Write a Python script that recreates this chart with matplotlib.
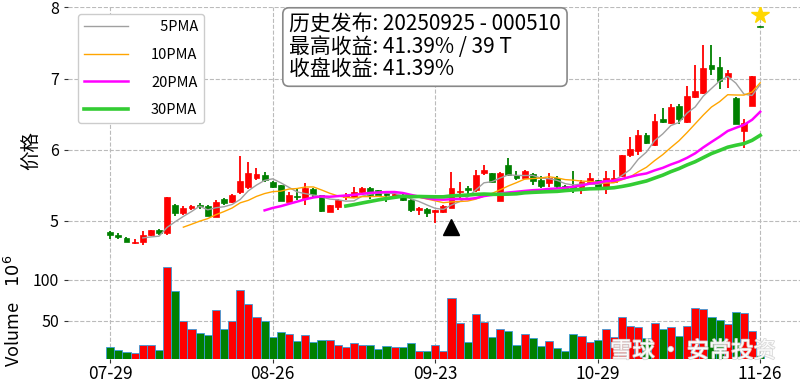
import numpy as np
import pandas as pd
import matplotlib
matplotlib.use("Agg")
import matplotlib.pyplot as plt
import matplotlib.patheffects as pe

plt.rcParams['font.family'] = ['Noto Sans CJK SC', 'DejaVu Sans']
plt.rcParams['axes.unicode_minus'] = False

# 日线数据 (07-29 ~ 11-26)
opens = [4.84, 4.81, 4.76, 4.69, 4.71, 4.80, 4.87, 4.83, 5.22, 5.11,
         5.18, 5.22, 5.21, 5.06, 5.31, 5.26, 5.41, 5.48, 5.60, 5.65,
         5.55, 5.50, 5.27, 5.35, 5.32, 5.45, 5.36, 5.13, 5.20, 5.34,
         5.34, 5.40, 5.47, 5.43, 5.39, 5.35, 5.37, 5.30, 5.16, 5.17,
         5.13, 5.12, 5.18, 5.40, 5.47, 5.43, 5.68, 5.67, 5.28, 5.78,
         5.65, 5.61, 5.66, 5.58, 5.54, 5.60, 5.49, 5.49, 5.48, 5.55,
         5.57, 5.48, 5.55, 5.63, 5.92, 5.98, 6.21, 6.06, 6.43, 6.38,
         6.61, 6.39, 6.74, 6.80, 7.19, 7.16, 7.02, 6.73, 6.26, 6.62,
         7.74]
highs = [4.86, 4.83, 4.77, 4.74, 4.86, 4.88, 4.89, 5.34, 5.24, 5.21,
         5.22, 5.25, 5.22, 5.29, 5.32, 5.38, 5.91, 5.83, 5.75, 5.69,
         5.56, 5.50, 5.41, 5.46, 5.53, 5.47, 5.37, 5.23, 5.31, 5.39,
         5.48, 5.48, 5.48, 5.44, 5.41, 5.41, 5.39, 5.31, 5.20, 5.18,
         5.15, 5.22, 5.69, 5.55, 5.49, 5.72, 5.78, 5.68, 5.69, 5.89,
         5.70, 5.71, 5.68, 5.63, 5.67, 5.63, 5.50, 5.70, 5.58, 5.67,
         5.58, 5.70, 5.71, 5.93, 6.18, 6.28, 6.23, 6.50, 6.59, 6.64,
         6.64, 6.89, 7.19, 7.47, 7.47, 7.30, 7.12, 6.74, 6.43, 7.03,
         7.74]
lows = [4.75, 4.74, 4.70, 4.67, 4.66, 4.79, 4.81, 4.81, 5.07, 5.08,
        5.16, 5.17, 5.07, 5.05, 5.22, 5.25, 5.38, 5.45, 5.58, 5.55,
        5.47, 5.28, 5.26, 5.29, 5.22, 5.32, 5.13, 5.12, 5.15, 5.29,
        5.33, 5.39, 5.31, 5.36, 5.27, 5.31, 5.28, 5.13, 5.08, 5.06,
        4.97, 5.11, 5.18, 5.32, 5.36, 5.41, 5.64, 5.54, 5.28, 5.63,
        5.57, 5.60, 5.50, 5.46, 5.48, 5.47, 5.41, 5.39, 5.38, 5.53,
        5.47, 5.38, 5.55, 5.62, 5.90, 5.93, 6.08, 6.05, 6.38, 6.36,
        6.36, 6.38, 6.72, 6.79, 7.05, 6.86, 6.87, 6.36, 6.02, 6.62,
        7.72]
closes = [4.80, 4.78, 4.71, 4.71, 4.81, 4.87, 4.83, 5.33, 5.11, 5.18,
          5.21, 5.21, 5.07, 5.26, 5.25, 5.37, 5.56, 5.68, 5.66, 5.58,
          5.48, 5.28, 5.36, 5.34, 5.46, 5.38, 5.14, 5.22, 5.29, 5.36,
          5.40, 5.47, 5.36, 5.37, 5.36, 5.38, 5.29, 5.16, 5.18, 5.11,
          5.15, 5.21, 5.47, 5.42, 5.43, 5.65, 5.71, 5.55, 5.68, 5.65,
          5.61, 5.70, 5.56, 5.49, 5.61, 5.49, 5.47, 5.47, 5.55, 5.60,
          5.48, 5.60, 5.60, 5.92, 6.01, 6.21, 6.10, 6.40, 6.39, 6.60,
          6.43, 6.76, 6.83, 7.15, 7.13, 6.96, 7.08, 6.36, 6.38, 7.03,
          7.73]
# 成交量 (单位: 百万)
volumes = [17.9, 14.2, 12.6, 10.6, 21.1, 21.1, 14.2, 115.5, 87.0, 50.4,
           39.8, 35.4, 32.9, 63.4, 40.7, 50.4, 88.2, 71.1, 54.5, 50.4,
           30.9, 36.6, 34.2, 25.6, 32.9, 24.4, 26.4, 26.4, 21.1, 17.9,
           23.2, 21.1, 20.3, 15.9, 19.1, 17.9, 17.9, 23.6, 13.8, 13.8,
           21.1, 13.8, 78.5, 47.2, 24.8, 58.1, 48.4, 30.9, 39.8, 38.2,
           21.1, 34.2, 28.9, 19.9, 25.6, 16.7, 13.8, 34.2, 31.7, 24.8,
           26.8, 40.7, 30.9, 54.5, 43.9, 42.7, 28.9, 47.2, 40.7, 42.7,
           32.1, 43.9, 65.5, 64.2, 55.3, 51.2, 45.9, 60.6, 59.4, 37.8,
           8.5]

tick_pos = [0, 20, 40, 60, 80]
tick_labels = ['07-29', '08-26', '09-23', '10-29', '11-26']

release_idx = 42
release_mark = 4.91
best_idx = 80
best_mark = 7.89

info_lines = ['历史发布: 20250925 - 000510',
              '最高收益: 41.39% / 39 T',
              '收盘收益: 41.39%']

ma_windows = [5, 10, 20, 30]
ma_labels = ['\u20075PMA', '10PMA', '20PMA', '30PMA']
ma_colors = ['#a0a0a0', '#ffa500', '#ff00ff', '#33cc33']
ma_widths = [1.0, 1.0, 1.8, 2.6]

up_color = '#ff0000'
down_color = '#008000'

x = np.arange(len(closes))
o = np.array(opens)
c = np.array(closes)
h = np.array(highs)
l = np.array(lows)
up = c >= o
colors = np.where(up, up_color, down_color)

fig = plt.figure(figsize=(8, 3.84), dpi=100)
ax = fig.add_axes([0.085, 1 - 258 / 384, 0.915, 251 / 384])
ax2 = fig.add_axes([0.085, 1 - 359 / 384, 0.915, 101 / 384], sharex=ax)

# K线
ax.vlines(x, l, h, colors=colors, linewidth=1.3, zorder=3)
body_bottom = np.minimum(o, c)
body_h = np.maximum(np.abs(c - o), 0.012)
ax.bar(x, body_h, bottom=body_bottom, width=0.72, color=colors,
       edgecolor=colors, linewidth=0.5, zorder=4)

# 均线
s = pd.Series(closes)
for w, lab, col, lw in zip(ma_windows, ma_labels, ma_colors, ma_widths):
    ax.plot(x, s.rolling(w).mean(), color=col, linewidth=lw, label=lab, zorder=5)

ax.plot([release_idx], [release_mark], marker='^', color='black',
        markersize=12, linestyle='none', zorder=6)
ax.plot([best_idx], [best_mark], marker='*', color='#ffd700',
        markersize=13, linestyle='none', zorder=6)

leg = ax.legend(loc='upper left', bbox_to_anchor=(0.0137, 0.972),
                borderaxespad=0, fontsize=10.5, handlelength=3.0,
                labelspacing=0.95, handletextpad=1.6, framealpha=1,
                edgecolor='#cccccc')

ax.text(0.302, 0.972, '\n'.join(info_lines), transform=ax.transAxes,
        ha='left', va='top', fontsize=15, linespacing=1.0, zorder=10,
        bbox=dict(boxstyle='round,pad=0.3', facecolor='white',
                  edgecolor='#888888', linewidth=1.2))

ax.set_ylim(4.48, 8.005)
ax.set_yticks([5, 6, 7, 8])
ax.set_yticklabels(['5', '6', '7', '8'])
ax.set_ylabel('价格', fontsize=14)
ax.yaxis.set_label_coords(-0.035, 0.43)
ax.tick_params(axis='x', which='both', bottom=False, labelbottom=False)

# 成交量
ax2.bar(x, volumes, width=1.0, color=colors, edgecolor='#3a9ad9',
        linewidth=0.6, zorder=3)
ax2.set_ylim(3.66, 126.8)
ax2.set_yticks([50, 100])
ax2.set_yticklabels(['50', '100'])
ax2.set_ylabel('Volume    $10^{6}$', fontsize=13)
ax2.yaxis.set_label_coords(-0.06, 0.475)
ax2.set_xlim(-5.2, 84.9)
ax2.set_xticks(tick_pos)
ax2.set_xticklabels(tick_labels, fontsize=12.5)

for a in (ax, ax2):
    for sp in a.spines.values():
        sp.set_visible(False)
    a.grid(True, linestyle='--', color='#bbbbbb', linewidth=0.8)
    a.set_axisbelow(True)
    a.tick_params(axis='y', labelsize=11.5, length=3, width=0.8, color='#333333')
ax2.tick_params(axis='x', length=3, width=0.8, color='#333333', pad=1.5)

fig.text(0.97, 1 - 351 / 384, '雪球 · 安常投资', ha='right', va='center',
         fontsize=16, color='white', alpha=0.9, zorder=20,
         path_effects=[pe.withStroke(linewidth=1.2, foreground='#d5d5d5')])

fig.savefig('out.png', dpi=100)
